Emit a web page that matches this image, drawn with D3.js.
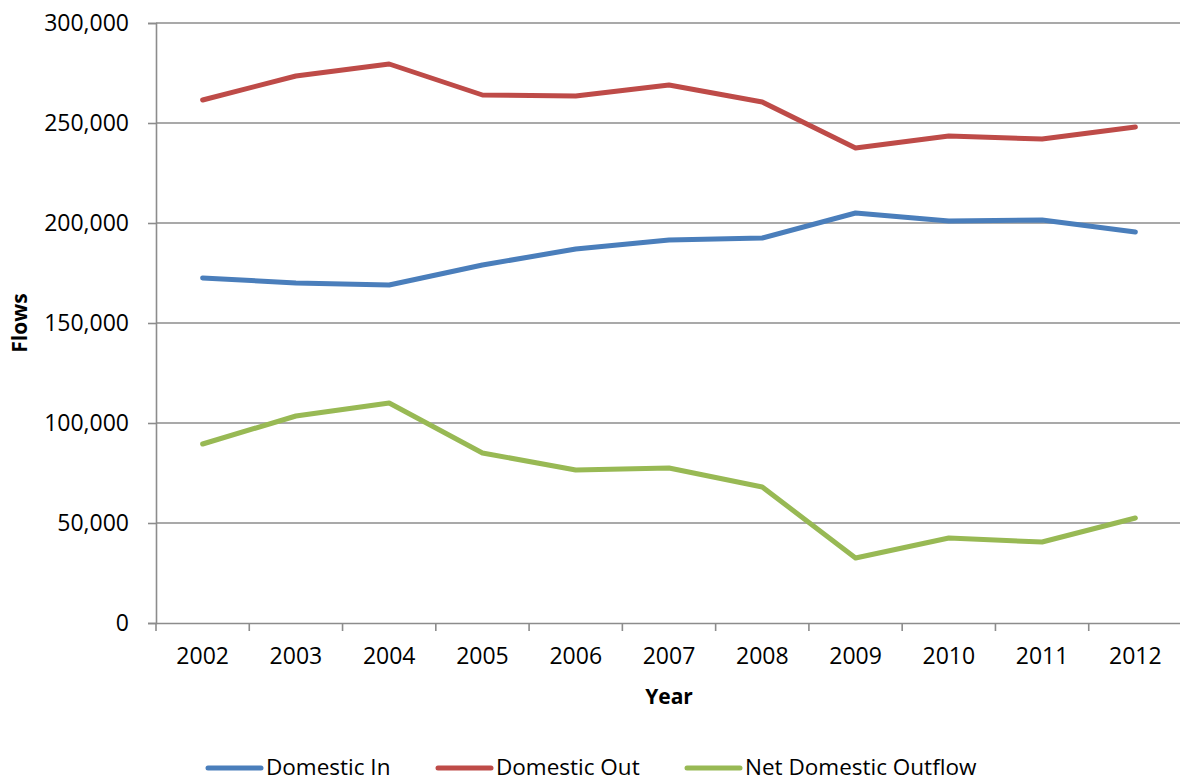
<!DOCTYPE html>
<html>
<head>
<meta charset="utf-8">
<script src="https://cdn.jsdelivr.net/npm/d3@7"></script>
<style>
  html, body { margin: 0; padding: 0; background: #fff; }
  svg { display: block; }
  text { font-family: "Open Sans", "Noto Sans", sans-serif; fill: #000; }
</style>
</head>
<body>
<svg id="chart" width="1180" height="783"></svg>
<script>
// Annual domestic migration flows
const years = ["2002","2003","2004","2005","2006","2007","2008","2009","2010","2011","2012"];
const domesticIn  = [172500, 170000, 169000, 179000, 187000, 191500, 192500, 205000, 201000, 201500, 195500];
const domesticOut = [261500, 273500, 279500, 264000, 263500, 269000, 260500, 237500, 243500, 242000, 248000];
const netOutflow  = [89500, 103500, 110000, 85000, 76500, 77500, 68000, 32500, 42500, 40500, 52500];
const yTicks = [0, 50000, 100000, 150000, 200000, 250000, 300000];

const seriesNames  = ["Domestic In", "Domestic Out", "Net Domestic Outflow"];
const seriesColors = ["#4a7ebb", "#be4b48", "#98b954"];
const seriesData   = [domesticIn, domesticOut, netOutflow];

const svg = d3.select("#chart");
const plot = { left: 156, right: 1182, top: 23, bottom: 623 };

const x = d3.scaleBand().domain(years).range([plot.left, plot.right]);
const y = d3.scaleLinear().domain([0, 300000]).range([plot.bottom, plot.top]);
const fmt = d3.format(",");
const grid = "#8c8c8c";

// horizontal gridlines
svg.append("g").selectAll("line").data(yTicks.filter(d => d > 0)).join("line")
  .attr("x1", plot.left).attr("x2", plot.right)
  .attr("y1", d => y(d)).attr("y2", d => y(d))
  .attr("stroke", grid).attr("stroke-width", 1.6);

// y axis
const yAxis = svg.append("g").attr("transform", `translate(${plot.left},0)`)
  .call(d3.axisLeft(y).tickValues(yTicks).tickFormat(fmt).tickSize(8).tickPadding(19));
yAxis.select(".domain").attr("stroke", grid).attr("stroke-width", 1.6);
yAxis.selectAll(".tick line").attr("stroke", grid).attr("stroke-width", 1.6);
yAxis.selectAll(".tick text").style("font-size", "23px").attr("fill", "#000")
  .style("font-family", "'Open Sans', 'Noto Sans', sans-serif");

// x axis with ticks at band boundaries
const xAxis = svg.append("g").attr("transform", `translate(0,${plot.bottom})`)
  .call(d3.axisBottom(x).tickSize(0).tickPadding(25));
xAxis.select(".domain").attr("stroke", grid).attr("stroke-width", 1.6);
xAxis.selectAll(".tick text").style("font-size", "23px").attr("fill", "#000")
  .style("font-family", "'Open Sans', 'Noto Sans', sans-serif");
const bounds = years.map(d => x(d)).concat([x(years[years.length - 1]) + x.bandwidth()]);
svg.append("g").selectAll("line").data(bounds).join("line")
  .attr("x1", d => d).attr("x2", d => d)
  .attr("y1", plot.bottom).attr("y2", plot.bottom + 8)
  .attr("stroke", grid).attr("stroke-width", 1.6);

// axis titles
svg.append("text").attr("transform", "translate(27,323) rotate(-90)")
  .attr("text-anchor", "middle").style("font-size", "21px").style("font-weight", "bold").text("Flows");
svg.append("text").attr("x", 669).attr("y", 704)
  .attr("text-anchor", "middle").style("font-size", "21px").style("font-weight", "bold").text("Year");

// series lines
const line = d3.line().x((d, i) => x(years[i]) + x.bandwidth() / 2).y(d => y(d));
seriesData.forEach((data, k) => {
  svg.append("path").datum(data)
    .attr("d", line).attr("fill", "none")
    .attr("stroke", seriesColors[k]).attr("stroke-width", 5)
    .attr("stroke-linecap", "round").attr("stroke-linejoin", "round");
});

// legend
const legendX = [208, 438, 687];
const legend = svg.append("g");
seriesNames.forEach((name, k) => {
  legend.append("line")
    .attr("x1", legendX[k]).attr("x2", legendX[k] + 53)
    .attr("y1", 768).attr("y2", 768)
    .attr("stroke", seriesColors[k]).attr("stroke-width", 5).attr("stroke-linecap", "round");
  legend.append("text").attr("x", legendX[k] + 58).attr("y", 775)
    .style("font-size", "22.5px").text(name);
});
</script>
</body>
</html>
